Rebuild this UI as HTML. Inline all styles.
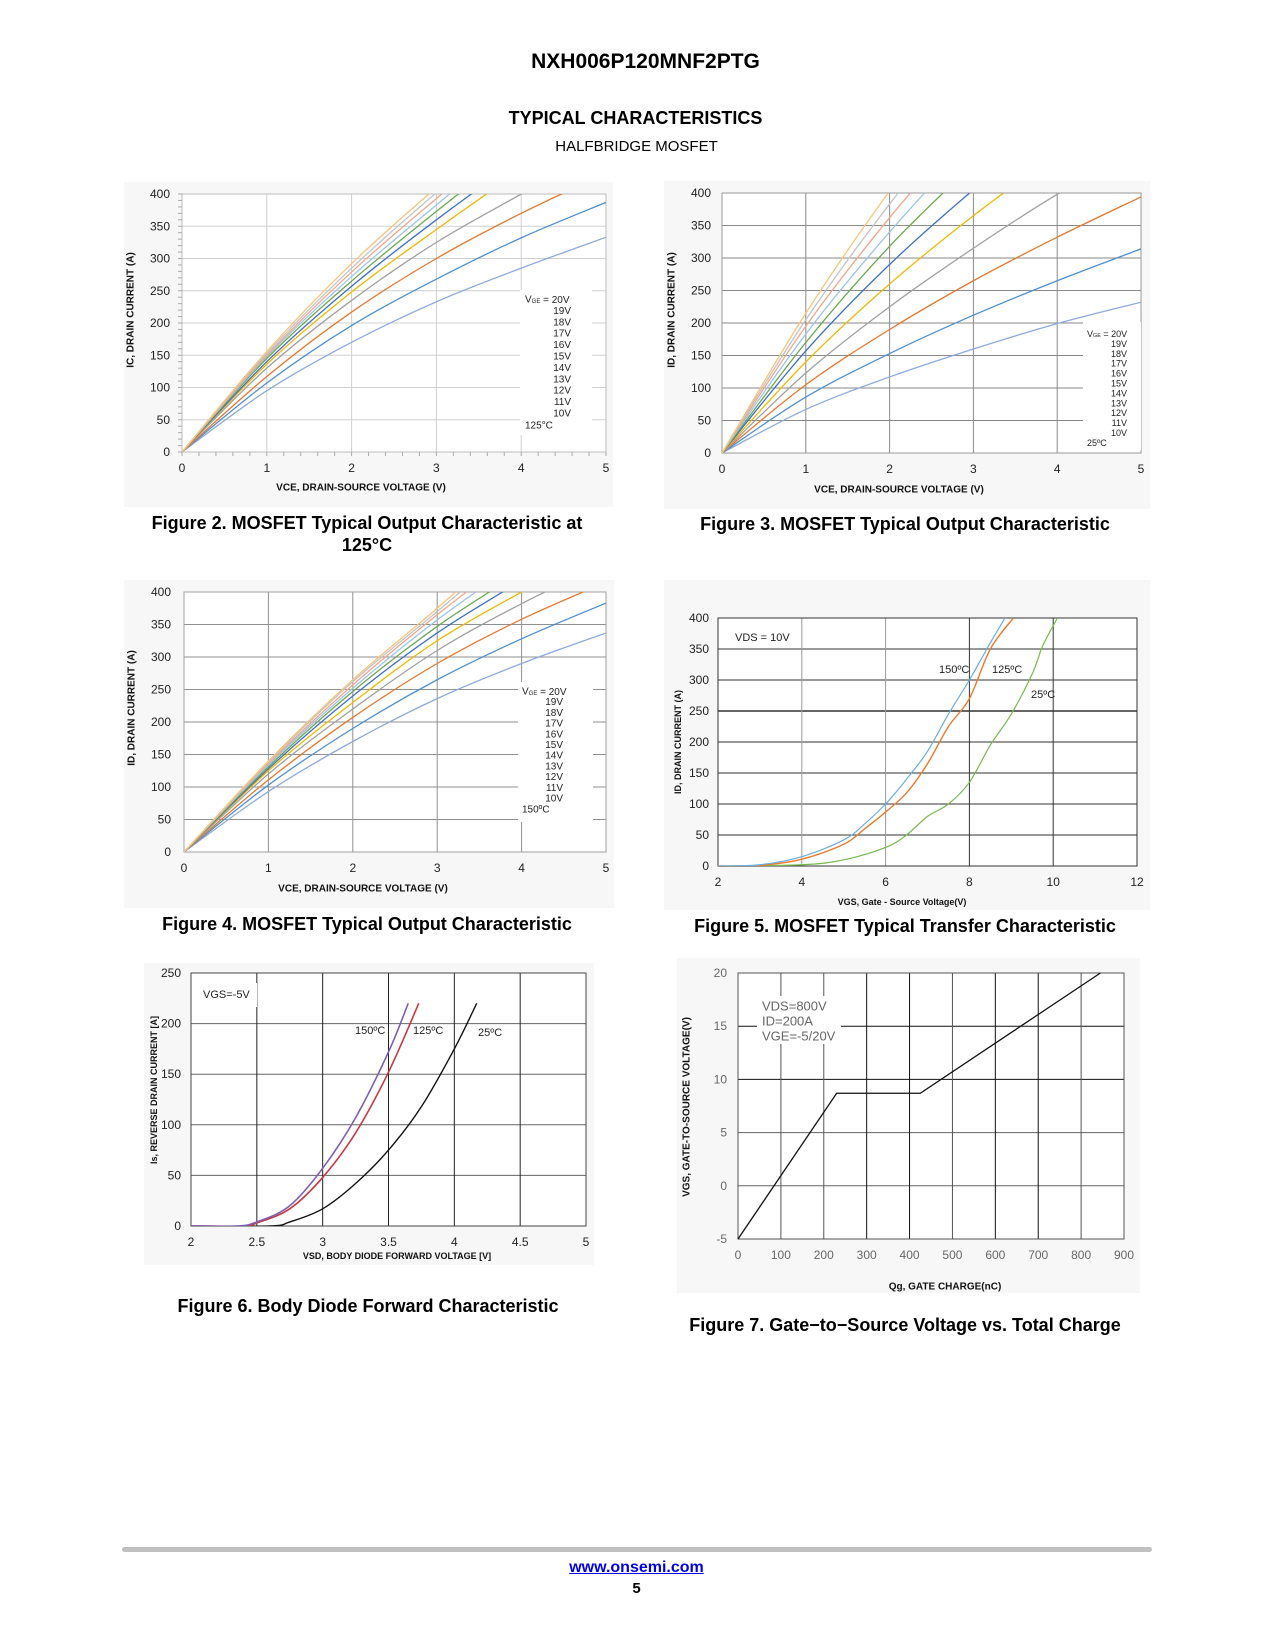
<!DOCTYPE html>
<html>
<head>
<meta charset="utf-8">
<style>
  html,body{margin:0;padding:0;background:#fff;}
  body{width:1275px;height:1650px;position:relative;overflow:hidden;font-family:"Liberation Sans",Arial,sans-serif;}
  .t{position:absolute;left:0;width:1275px;text-align:center;color:#000;}
  svg text{font-family:"Liberation Sans",Arial,sans-serif;}
</style>
</head>
<body>
<div class="t" style="top:50px;font-size:21px;font-weight:bold;left:8px;">NXH006P120MNF2PTG</div>
<div class="t" style="top:108px;font-size:18px;font-weight:bold;left:-2px;">TYPICAL CHARACTERISTICS</div>
<div class="t" style="top:138px;font-size:15px;left:-1px;">HALFBRIDGE MOSFET</div>

<div style="position:absolute;left:122px;top:1547px;width:1030px;height:5px;background:#c0c0c0;border-radius:3px;"></div>
<div class="t" style="top:1559px;font-size:16px;font-weight:bold;color:#0000ee;text-decoration:underline;left:-1px;">www.onsemi.com</div>
<div class="t" style="top:1580px;font-size:15px;font-weight:bold;left:-1px;">5</div>

<svg id="charts" width="1275" height="1650" style="position:absolute;left:0;top:0;" xmlns="http://www.w3.org/2000/svg"></svg>

<script>
// ---------- Figure 2 data (125°C) ----------
const f2X = [0,1,2,3,4,5];
const f2Labels = ['20V','19V','18V','17V','16V','15V','14V','13V','12V','11V','10V'];
const f2_20 = [0,156,292,410,520,620];
const f2_19 = [0,153,285,402,510,610];
const f2_18 = [0,150,279,393,500,600];
const f2_17 = [0,148,272,383,490,590];
const f2_16 = [0,145,265,373,475,570];
const f2_15 = [0,140,257,360,455,545];
const f2_14 = [0,136,248,345,437,525];
const f2_13 = [0,130,235,325,400,475];
const f2_12 = [0,117,217,300,370,432];
const f2_11 = [0,107,196,268,332,387];
const f2_10 = [0,95,170,233,285,333];
const f2XTicks = [0,1,2,3,4,5];
const f2YTicks = [0,50,100,150,200,250,300,350,400];

// ---------- Figure 3 data (25°C) ----------
const f3X = [0,1,2,3,4,5];
const f3_20 = [0,215,403,570,720,860];
const f3_19 = [0,205,383,540,690,830];
const f3_18 = [0,195,362,510,650,780];
const f3_17 = [0,183,340,480,610,730];
const f3_16 = [0,170,318,445,570,680];
const f3_15 = [0,157,290,405,510,610];
const f3_14 = [0,140,260,365,460,550];
const f3_13 = [0,123,225,315,398,470];
const f3_12 = [0,105,190,265,332,394];
const f3_11 = [0,86,153,212,265,314];
const f3_10 = [0,67,117,160,199,232];

// ---------- Figure 4 data (150°C) ----------
const f4X = [0,1,2,3,4,5];
const f4_20 = [0,140,265,375,490,600];
const f4_19 = [0,138,262,370,480,590];
const f4_18 = [0,136,257,365,465,570];
const f4_17 = [0,134,252,357,450,550];
const f4_16 = [0,131,247,347,432,520];
const f4_15 = [0,128,240,337,418,500];
const f4_14 = [0,125,230,325,400,470];
const f4_13 = [0,120,220,310,382,445];
const f4_12 = [0,111,207,290,358,415];
const f4_11 = [0,103,190,265,328,383];
const f4_10 = [0,93,170,236,290,337];

// ---------- Figure 5 data (transfer) ----------
const f5X150 = [2,3,4,5,5.5,6,6.5,7,7.5,8,8.5,8.85];
const f5Y150 = [0,2,15,42,68,100,140,185,245,300,360,400];
const f5X125 = [2,3,4,5,5.5,6,6.5,7,7.5,8,8.5,9.05];
const f5Y125 = [0,1,11,35,60,87,118,165,225,270,350,400];
const f5X25 = [2,4,5,6,6.5,7,7.5,8,8.5,9,9.5,9.75,10.1];
const f5Y25 = [0,2,10,30,50,80,100,135,195,245,310,355,400];
const f5XTicks = [2,4,6,8,10,12];
const f5YTicks = [0,50,100,150,200,250,300,350,400];

// ---------- Figure 6 data (body diode) ----------
const f6X150 = [2,2.35,2.5,2.75,3,3.25,3.5,3.65];
const f6Y150 = [0,0,4,20,57,107,172,220];
const f6X125 = [2,2.4,2.5,2.75,3,3.25,3.5,3.73];
const f6Y125 = [0,0,3,17,48,92,152,220];
const f6X25 = [2,2.6,2.75,3,3.25,3.5,3.75,4,4.17];
const f6Y25 = [0,0,4,17,42,75,118,175,220];
const f6XTicks = ['2','2.5','3','3.5','4','4.5','5'];
const f6YTicks = [0,50,100,150,200,250];

// ---------- Figure 7 data (gate charge) ----------
const f7Q = [0,230,425,845];
const f7V = [-5,8.7,8.7,20];
const f7XTicks = [0,100,200,300,400,500,600,700,800,900];
const f7YTicks = [-5,0,5,10,15,20];

const outColors = ['#f9c47a','#c4c4c4','#f2a58a','#9cc3e8','#6aa84f','#3f6fc4','#f0b800','#a0a0a0','#e8772e','#4e8fcf','#8eaadd'];

const NS = 'http://www.w3.org/2000/svg';
const root = document.getElementById('charts');
function mk(parent, tag, attrs, txt){
  const e = document.createElementNS(NS, tag);
  for (const k in attrs) e.setAttribute(k, attrs[k]);
  if (txt !== undefined) e.textContent = txt;
  parent.appendChild(e);
  return e;
}
function smoothPath(pts){
  let d = 'M' + pts[0][0].toFixed(2) + ',' + pts[0][1].toFixed(2);
  for (let i = 0; i < pts.length - 1; i++){
    const p0 = pts[i-1] || pts[i], p1 = pts[i], p2 = pts[i+1], p3 = pts[i+2] || pts[i+1];
    const c1x = p1[0] + (p2[0]-p0[0])/6, c1y = p1[1] + (p2[1]-p0[1])/6;
    const c2x = p2[0] - (p3[0]-p1[0])/6, c2y = p2[1] - (p3[1]-p1[1])/6;
    d += ' C' + c1x.toFixed(2)+','+c1y.toFixed(2)+' '+c2x.toFixed(2)+','+c2y.toFixed(2)+' '+p2[0].toFixed(2)+','+p2[1].toFixed(2);
  }
  return d;
}
let clipId = 0;
function chart(c){
  const g = mk(root, 'g', {});
  
  
  const bg = mk(g, 'rect', {x:c.bx0, y:c.by0, width:c.bx1-c.bx0, height:c.by1-c.by0, fill:'#f7f7f7'});
  
  
  mk(g, 'rect', {x:c.x0, y:c.y0, width:c.x1-c.x0, height:c.y1-c.y0, fill:'#fff'});
  const sx = v => c.x0 + (v - c.xmin) / (c.xmax - c.xmin) * (c.x1 - c.x0);
  const sy = v => c.y1 - (v - c.ymin) / (c.ymax - c.ymin) * (c.y1 - c.y0);
  c.sx = sx; c.sy = sy;
  c.yTicks.forEach(t => {
    const v = +t;
    const ln = mk(g, 'line', {x1:c.x0, x2:c.x1, y1:sy(v), y2:sy(v), stroke:(c.hGridColor ? c.hGridColor(v) : c.grid), 'stroke-width':(c.hGridWidth ? c.hGridWidth(v) : 1)});
    
    
    const tx = mk(g, 'text', {x:c.x0 - c.ylGap, y:sy(v), 'text-anchor':'end', 'dominant-baseline':'central', 'font-size':c.tickSize, fill:c.tickColor}, String(t));
    
    
  });
  c.xTicks.forEach(t => {
    const v = +t;
    const ln = mk(g, 'line', {x1:sx(v), x2:sx(v), y1:c.y0, y2:c.y1, stroke:(c.vGridColor ? c.vGridColor(v) : c.grid), 'stroke-width':1});
    
    
    const tx = mk(g, 'text', {x:sx(v), y:c.y1 + 16, 'text-anchor':'middle', 'dominant-baseline':'central', 'font-size':c.tickSize, fill:c.tickColor}, String(t));
    
    
  });
  const frame = mk(g, 'rect', {x:c.x0, y:c.y0, width:c.x1-c.x0, height:c.y1-c.y0, fill:'none', stroke:c.frame, 'stroke-width':1});
  
  
  if (c.minor){
    for (let v = c.ymin; v <= c.ymax; v += c.minor){
      mk(g, 'line', {x1:c.x0 - 4, x2:c.x0, y1:sy(v), y2:sy(v), stroke:'#aaa', 'stroke-width':1});
    }
    for (let v = c.xmin; v <= c.xmax + 1e-9; v += 0.2){
      mk(g, 'line', {x1:sx(v), x2:sx(v), y1:c.y1, y2:c.y1 + 4, stroke:'#aaa', 'stroke-width':1});
    }
  }
  const xt = mk(g, 'text', {x:c.xtX, y:c.xtY, 'text-anchor':'middle', 'dominant-baseline':'central', 'font-size':c.titleSize || 10, 'font-weight':'bold', fill:'#111'}, c.xTitle);
  
  
  const yt = mk(g, 'text', {x:0, y:0, transform:'translate('+c.ytX+','+c.ytY+') rotate(-90)', 'text-anchor':'middle', 'dominant-baseline':'central', 'font-size':c.titleSize || 10, 'font-weight':'bold', fill:'#111'}, c.yTitle);
  
  
  const cap = mk(root, 'text', {x:c.capX, y:c.capY, 'text-anchor':'middle', 'dominant-baseline':'central', 'font-size':18, 'font-weight':'bold', fill:'#000'}, c.caption);
  
  
  if (c.caption2){
    const cap2 = mk(root, 'text', {x:c.capX, y:c.capY + 22, 'text-anchor':'middle', 'dominant-baseline':'central', 'font-size':18, 'font-weight':'bold', fill:'#000'}, c.caption2);
    
    
  }
  clipId++;
  const cp = mk(g, 'clipPath', {id:'clip' + clipId});
  mk(cp, 'rect', {x:c.x0, y:c.y0, width:c.x1-c.x0, height:c.y1-c.y0});
  c.clip = 'url(#clip' + clipId + ')';
  c.g = g;
  return c;
}
function series(c, xs, ys, color, width, name){
  const pts = xs.map((x, i) => [c.sx(x), c.sy(ys[i])]);
  const p = mk(c.g, 'path', {d:smoothPath(pts), fill:'none', stroke:color, 'stroke-width':width, 'clip-path':c.clip, 'stroke-linejoin':'round'});
  
  
  return p;
}
function label(c, x, y, txt, size, color, name, anchor){
  const t = mk(c.g, 'text', {x:x, y:y, 'font-size':size, fill:color || '#222', 'dominant-baseline':'central', 'text-anchor':anchor || 'start'}, txt);
  
  
  return t;
}
function vgeLegend(c, lx, rx, y0, step, tempText, tempY, size, box){
  const r = mk(c.g, 'rect', {x:box[0], y:box[1], width:box[2], height:box[3], fill:'#fff'});
  
  
  const t = mk(c.g, 'text', {x:lx, y:y0, 'font-size':size, fill:'#222', 'dominant-baseline':'central'});
  
  
  t.appendChild(document.createTextNode('V'));
  mk(t, 'tspan', {'font-size':size*0.6, dy:2}, 'GE');
  mk(t, 'tspan', {dy:-2}, ' = 20V');
  f2Labels.slice(1).forEach((s, i) => {
    label(c, rx, y0 + step*(i+1), s, size, '#222', 'legend-entry', 'end');
  });
  label(c, lx, tempY, tempText, size, '#222', 'temperature-label');
}

// ===== Figure 2 =====
const c2 = chart({name:'figure-2-chart', bx0:124, by0:182, bx1:613, by1:507, x0:182, y0:194, x1:606, y1:452,
  xmin:0, xmax:5, ymin:0, ymax:400, xTicks:f2XTicks, yTicks:f2YTicks, grid:'#d0d0d0', frame:'#bdbdbd',
  tickSize:12, tickColor:'#222', ylGap:12, minor:10,
  xTitle:'VCE, DRAIN-SOURCE VOLTAGE (V)', xtX:361, xtY:488, yTitle:'IC, DRAIN CURRENT (A)', ytX:131, ytY:310,
  caption:'Figure 2. MOSFET Typical Output Characteristic at', caption2:'125°C', capX:367, capY:523});
vgeLegend(c2, 525, 571, 300, 11.4, '125°C', 426, 10, [520, 290, 72, 145]);
[f2_10,f2_11,f2_12,f2_13,f2_14,f2_15,f2_16,f2_17,f2_18,f2_19,f2_20].forEach((s, i) => {
  series(c2, f2X, s, outColors[10 - i], 1.3, 'curve-vge-' + f2Labels[10 - i]);
});

// ===== Figure 3 =====
const c3 = chart({name:'figure-3-chart', bx0:664, by0:181, bx1:1150, by1:509, x0:722, y0:193, x1:1141, y1:453,
  xmin:0, xmax:5, ymin:0, ymax:400, xTicks:f2XTicks, yTicks:f2YTicks, grid:'#8a8a8a', frame:'#9a9a9a',
  tickSize:12, tickColor:'#222', ylGap:11,
  xTitle:'VCE, DRAIN-SOURCE VOLTAGE (V)', xtX:899, xtY:490, yTitle:'ID, DRAIN CURRENT (A)', ytX:672, ytY:310,
  caption:'Figure 3. MOSFET Typical Output Characteristic', capX:905, capY:524});
vgeLegend(c3, 1087, 1127, 334, 9.9, '25ºC', 443, 9, [1083, 322, 58, 128]);
[f3_10,f3_11,f3_12,f3_13,f3_14,f3_15,f3_16,f3_17,f3_18,f3_19,f3_20].forEach((s, i) => {
  series(c3, f3X, s, outColors[10 - i], 1.3, 'curve-vge-' + f2Labels[10 - i]);
});

// ===== Figure 4 =====
const c4 = chart({name:'figure-4-chart', bx0:124, by0:580, bx1:614, by1:908, x0:184, y0:592, x1:606, y1:852,
  xmin:0, xmax:5, ymin:0, ymax:400, xTicks:f2XTicks, yTicks:f2YTicks, grid:'#909090', frame:'#a0a0a0',
  tickSize:12, tickColor:'#222', ylGap:13,
  xTitle:'VCE, DRAIN-SOURCE VOLTAGE (V)', xtX:363, xtY:889, yTitle:'ID, DRAIN CURRENT (A)', ytX:132, ytY:708,
  caption:'Figure 4. MOSFET Typical Output Characteristic', capX:367, capY:924});
vgeLegend(c4, 522, 563, 692, 10.7, '150ºC', 810, 10, [518, 682, 75, 140]);
[f4_10,f4_11,f4_12,f4_13,f4_14,f4_15,f4_16,f4_17,f4_18,f4_19,f4_20].forEach((s, i) => {
  series(c4, f4X, s, outColors[10 - i], 1.3, 'curve-vge-' + f2Labels[10 - i]);
});

// ===== Figure 5 =====
const c5 = chart({name:'figure-5-chart', bx0:664, by0:580, bx1:1150, by1:910, x0:718, y0:618, x1:1137, y1:866,
  xmin:2, xmax:12, ymin:0, ymax:400, xTicks:f5XTicks, yTicks:f5YTicks, grid:'#333', frame:'#333',
  vGridColor: v => (v === 4 || v === 6) ? '#999' : '#333',
  hGridWidth: v => v === 250 ? 1.6 : 1,
  tickSize:12, tickColor:'#222', ylGap:9,
  xTitle:'VGS, Gate - Source Voltage(V)', xtX:902, xtY:902, yTitle:'ID, DRAIN CURRENT (A)', ytX:678, ytY:742, titleSize:9,
  caption:'Figure 5. MOSFET Typical Transfer Characteristic', capX:905, capY:926});
mk(c5.g, 'rect', {x:724, y:628, width:74, height:20, fill:'#fff'});
label(c5, 735, 638, 'VDS = 10V', 11, '#222', 'vds-annotation');
series(c5, f5X25, f5Y25, '#79b84e', 1.2, 'curve-25c');
series(c5, f5X125, f5Y125, '#ee7a2c', 1.4, 'curve-125c');
series(c5, f5X150, f5Y150, '#6aaee0', 1.2, 'curve-150c');
label(c5, 939, 670, '150ºC', 11, '#222', 'label-150c');
label(c5, 992, 670, '125ºC', 11, '#222', 'label-125c');
label(c5, 1031, 695, '25ºC', 11, '#222', 'label-25c');

// ===== Figure 6 =====
const c6 = chart({name:'figure-6-chart', bx0:144, by0:963, bx1:594, by1:1265, x0:191, y0:973, x1:586, y1:1226,
  xmin:2, xmax:5, ymin:0, ymax:250, xTicks:f6XTicks, yTicks:f6YTicks, grid:'#666', frame:'#444',
  vGridColor: v => '#222',
  tickSize:12, tickColor:'#222', ylGap:10,
  xTitle:'VSD, BODY DIODE FORWARD VOLTAGE [V]', xtX:397, xtY:1256, yTitle:'Is, REVERSE DRAIN CURRENT [A]', ytX:154, ytY:1090, titleSize:9,
  caption:'Figure 6. Body Diode Forward Characteristic', capX:368, capY:1306});
mk(c6.g, 'rect', {x:195, y:983, width:62, height:24, fill:'#fff'});
label(c6, 203, 995, 'VGS=-5V', 11, '#222', 'vgs-annotation');
series(c6, f6X25, f6Y25, '#111', 1.4, 'curve-25c');
series(c6, f6X125, f6Y125, '#c8383f', 1.6, 'curve-125c');
series(c6, f6X150, f6Y150, '#7c5fb5', 1.6, 'curve-150c');
label(c6, 355, 1031, '150ºC', 11, '#222', 'label-150c');
label(c6, 413, 1031, '125ºC', 11, '#222', 'label-125c');
label(c6, 478, 1033, '25ºC', 11, '#222', 'label-25c');

// ===== Figure 7 =====
const c7 = chart({name:'figure-7-chart', bx0:677, by0:958, bx1:1140, by1:1293, x0:738, y0:973, x1:1124, y1:1239,
  xmin:0, xmax:900, ymin:-5, ymax:20, xTicks:f7XTicks, yTicks:f7YTicks, grid:'#555', frame:'#555',
  hGridColor: v => (v === 10 || v === 15) ? '#111' : '#666',
  vGridColor: v => (v === 300 || v === 400 || v === 600 || v === 700) ? '#111' : '#555',
  tickSize:12, tickColor:'#666', ylGap:11,
  xTitle:'Qg, GATE CHARGE(nC)', xtX:945, xtY:1287, yTitle:'VGS, GATE-TO-SOURCE VOLTAGE(V)', ytX:687, ytY:1107,
  caption:'Figure 7. Gate−to−Source Voltage vs. Total Charge', capX:905, capY:1325});
mk(c7.g, 'rect', {x:757, y:996, width:84, height:48, fill:'#fff'});
label(c7, 762, 1006, 'VDS=800V', 13, '#666', 'vds-annotation');
label(c7, 762, 1021, 'ID=200A', 13, '#666', 'id-annotation');
label(c7, 762, 1036, 'VGE=-5/20V', 13, '#666', 'vge-annotation');
const pts7 = f7Q.map((q, i) => c7.sx(q).toFixed(2) + ',' + c7.sy(f7V[i]).toFixed(2)).join(' ');
const gl = mk(c7.g, 'polyline', {points:pts7, fill:'none', stroke:'#111', 'stroke-width':1.3});


</script>
</body>
</html>
